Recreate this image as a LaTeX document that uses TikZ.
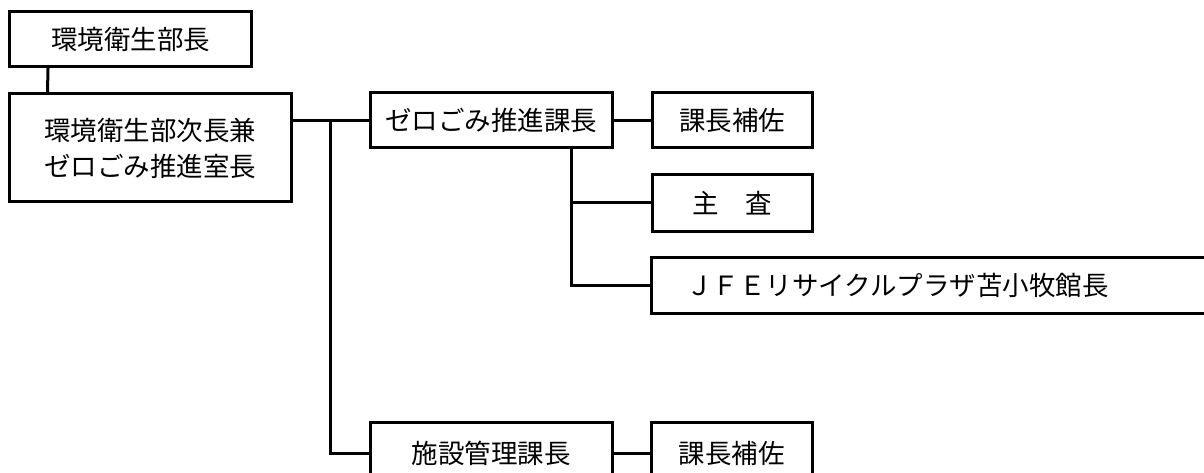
\documentclass[tikz,border=0pt]{standalone}
\usepackage{fontspec}
\setmainfont{Noto Sans CJK JP}
\begin{document}
\begin{tikzpicture}[x=1pt,y=-1pt,
  orgbox/.style={draw=black,line width=3pt,rectangle,inner sep=0pt,
    font=\fontsize{26.5}{36}\selectfont,align=center},
  link/.style={line width=3pt,line cap=rect}]
\useasboundingbox (0,0) rectangle (1204,473);
\fill[white] (0,0) rectangle (1204,473);
\clip (0,0) rectangle (1204,473);
\node[orgbox,minimum width=242pt,minimum height=55pt] (A) at (130.5,39.5) {環境衛生部長};
\node[orgbox,minimum width=282pt,minimum height=108pt] (B) at (150,148) {環境衛生部次長兼\\ゼロごみ推進室長};
\node[orgbox,minimum width=242pt,minimum height=55pt] (C) at (491,120.5) {ゼロごみ推進課長};
\node[orgbox,minimum width=160pt,minimum height=55pt] (F) at (732,120.5) {課長補佐};
\node[orgbox,minimum width=160pt,minimum height=56pt] (G) at (732,203) {主　査};
\node[orgbox,minimum height=56pt,text width=494pt,inner xsep=35pt,align=left] (H) at (933,285) {ＪＦＥリサイクルプラザ苫小牧館長};
\node[orgbox,minimum width=242pt,minimum height=62pt] (D) at (491,453) {施設管理課長};
\node[orgbox,minimum width=161pt,minimum height=62pt] (E) at (731.5,453) {課長補佐};
\coordinate (T) at (330,121);
\coordinate (S) at (571,148);
\draw[link] ([xshift=40pt]A.south west) -- ([xshift=40pt]B.north west);
\draw[link] (B.east |- C.west) -- (C.west);
\draw[link] (T) |- (D.west);
\draw[link] (C.east) -- (F.west);
\draw[link] (S) |- (G.west);
\draw[link] (S) |- (H.west);
\draw[link] (D.east) -- (E.west);
\end{tikzpicture}
\end{document}
